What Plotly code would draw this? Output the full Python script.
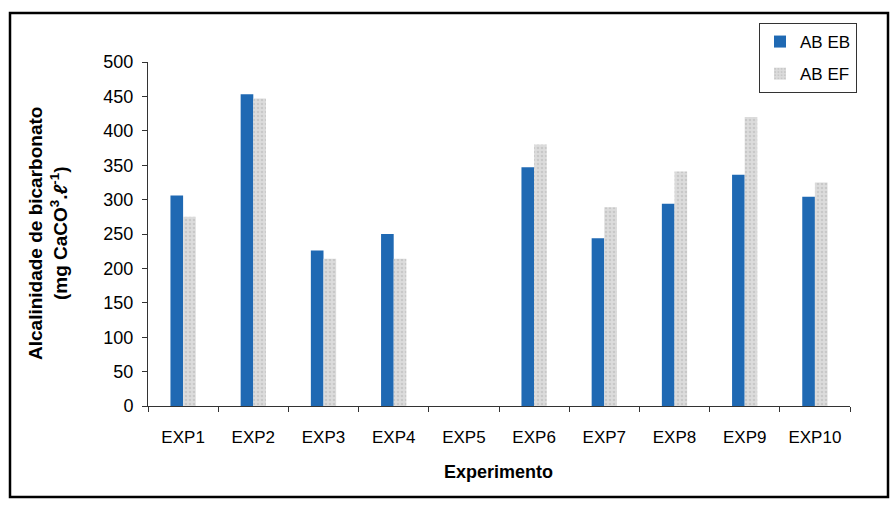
import plotly.graph_objects as go

experimentos = ["EXP1", "EXP2", "EXP3", "EXP4", "EXP5", "EXP6", "EXP7", "EXP8", "EXP9", "EXP10"]
ab_eb = [306, 453, 226, 250, None, 347, 244, 294, 336, 304]
ab_ef = [275, 447, 214, 214, None, 380, 289, 341, 420, 325]

FONT = "Liberation Sans, Arial, sans-serif"

fig = go.Figure()
fig.add_trace(go.Bar(
    x=experimentos, y=ab_eb, name="AB EB", legendgroup="eb",
    marker=dict(color="#1f69b3", line=dict(width=0)),
))
fig.add_trace(go.Bar(
    x=experimentos, y=ab_ef, name="AB EF", legendgroup="ef",
    marker=dict(color="#d6d6d6", line=dict(width=0),
                pattern=dict(shape=".", fgcolor="#b4b4b4", bgcolor="#dcdcdc", size=4, solidity=0.35)),
))

# plot area in pixels: x 148..850, y 62..406
L, R, T, B = 148, 850, 62, 406
W, H = R - L, B - T

def px(x):
    return (x - L) / W

def py(y):
    return (B - y) / H

fig.update_layout(
    width=891, height=508,
    margin=dict(l=L, r=891 - R, t=T, b=508 - B),
    paper_bgcolor="white", plot_bgcolor="white",
    barmode="group", bargap=0.64, bargroupgap=0,
    font=dict(family=FONT, color="black", size=17),
    showlegend=True,
    legend=dict(
        x=px(759), y=py(23), xanchor="left", yanchor="top",
        bordercolor="#333333", borderwidth=1, bgcolor="white",
        font=dict(family=FONT, size=17, color="black"),
        traceorder="grouped", tracegroupgap=7,
        itemwidth=30,
    ),
    xaxis=dict(
        showline=True, linecolor="#333333", linewidth=1,
        ticks="outside", ticklen=5, tickcolor="#333333", tickson="boundaries",
        tickfont=dict(family=FONT, size=17),
        ticklabelstandoff=16,
        showgrid=False,
    ),
    yaxis=dict(
        range=[0, 500], tickvals=list(range(0, 501, 50)),
        showline=True, linecolor="#333333", linewidth=1,
        ticks="outside", ticklen=5, tickcolor="#333333",
        tickfont=dict(family=FONT, size=18),
        ticklabelstandoff=5,
        showgrid=False, zeroline=False,
    ),
)

fig.add_annotation(
    xref="paper", yref="paper", x=px(48), y=py(234),
    xanchor="center", yanchor="middle",
    text="<b>Alcalinidade de bicarbonato<br>(mg CaCO<sup>3</sup>.<i>ℓ</i><sup>-1</sup>)</b>",
    textangle=-90, showarrow=False, align="center",
    font=dict(family=FONT, size=19),
)
fig.add_annotation(
    xref="paper", yref="paper", x=px(498), y=py(472),
    xanchor="center", yanchor="middle",
    text="<b>Experimento</b>", showarrow=False,
    font=dict(family=FONT, size=18),
)

# outer frame
fig.add_shape(
    type="rect", xref="paper", yref="paper",
    x0=px(10), x1=px(888), y0=py(497), y1=py(13),
    line=dict(color="black", width=2.5), layer="below",
)

fig.write_html("out.html")
